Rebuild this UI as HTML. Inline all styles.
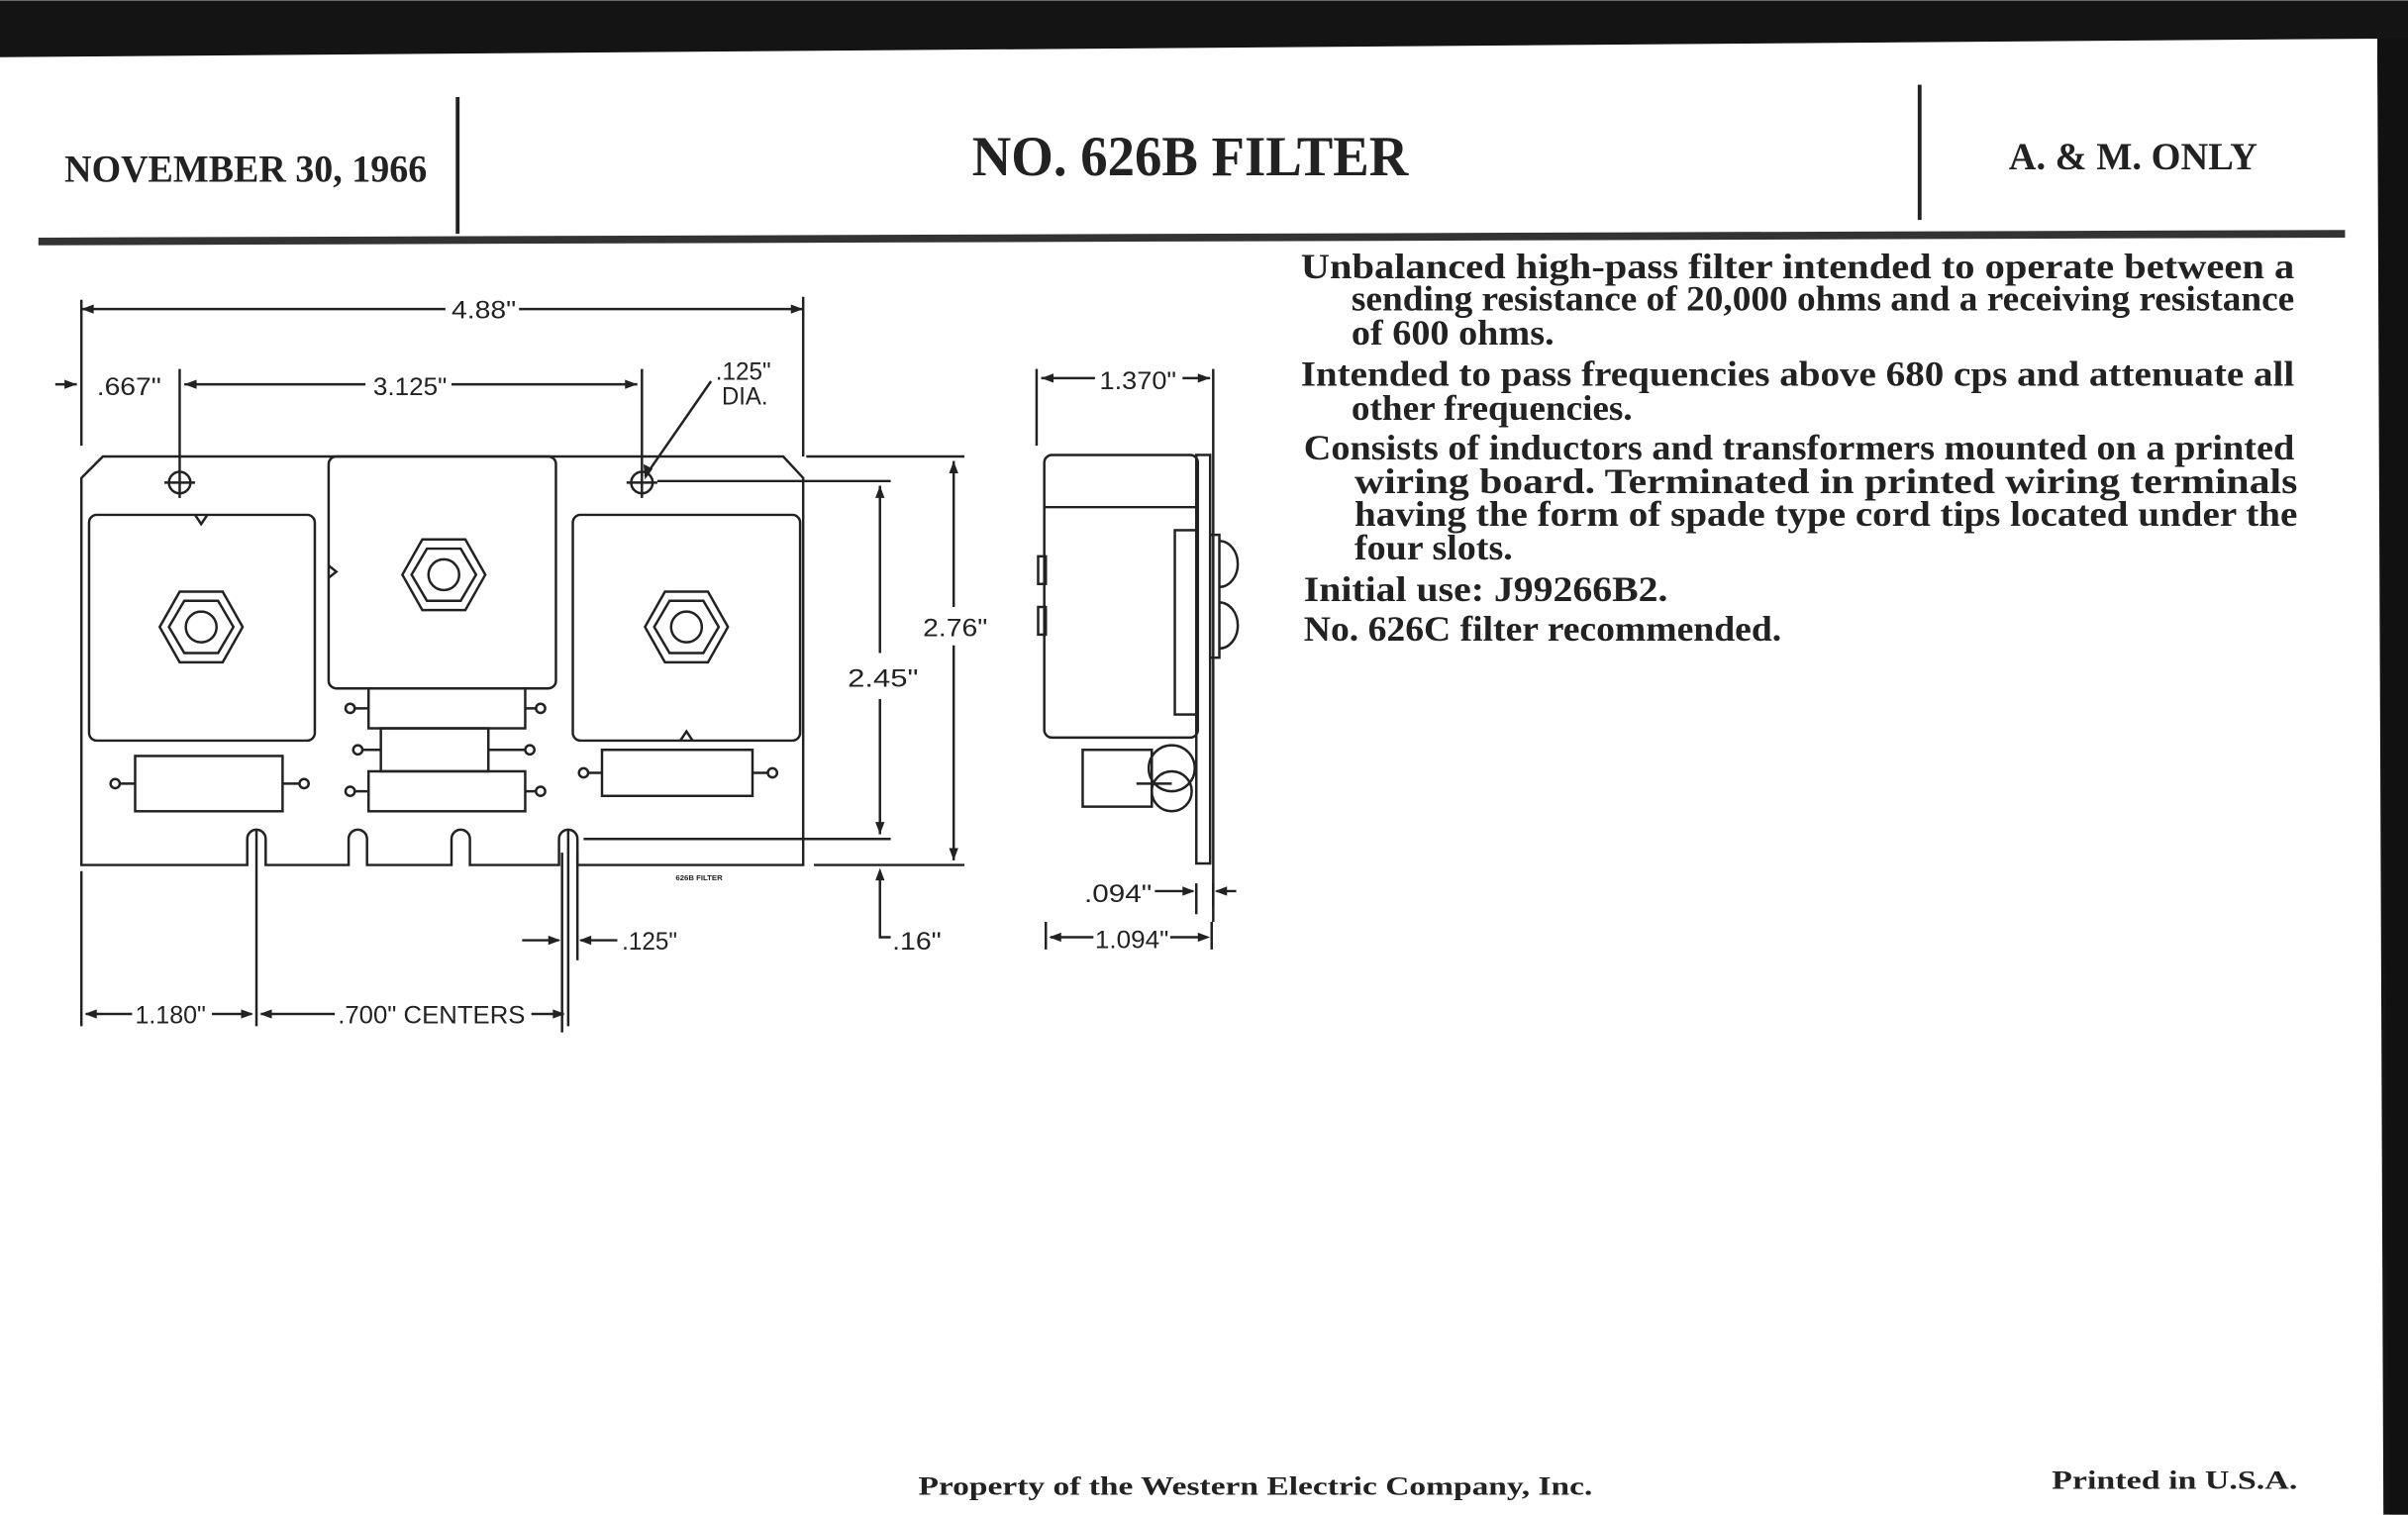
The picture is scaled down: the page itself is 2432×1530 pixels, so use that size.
<!DOCTYPE html>
<html><head><meta charset="utf-8"><style>
html,body{margin:0;padding:0;background:#fff;}
svg{display:block;}
</style></head><body>
<svg width="2432" height="1530" viewBox="0 0 1568 986" xmlns="http://www.w3.org/2000/svg">
<rect width="1568" height="986" fill="#fff"/>
<polygon points="0,0 1568,0 1568,986 1552,986 1548,25 1540,25 0,37" fill="#141414"/>
<polygon points="1548,25 1568,25 1568,986 1556,986" fill="#111"/>
<g font-family="Liberation Serif, serif" font-weight="bold" fill="#222" lengthAdjust="spacingAndGlyphs">
<text x="42" y="118" font-size="25" textLength="236" lengthAdjust="spacingAndGlyphs">NOVEMBER 30, 1966</text>
<text x="633" y="114" font-size="37" textLength="284" lengthAdjust="spacingAndGlyphs">NO. 626B FILTER</text>
<text x="1308" y="110" font-size="25" textLength="162" lengthAdjust="spacingAndGlyphs">A. &amp; M. ONLY</text>
</g>
<line x1="298" y1="63" x2="298" y2="152" stroke="#222" stroke-width="2.5"/>
<line x1="1250" y1="55" x2="1250" y2="143" stroke="#222" stroke-width="2.5"/>
<line x1="25" y1="157" x2="1527" y2="152" stroke="#333" stroke-width="5"/>
<g font-family="Liberation Serif, serif" font-weight="bold" fill="#222" font-size="23">
<text x="847" y="181" textLength="647" lengthAdjust="spacingAndGlyphs">Unbalanced high-pass filter intended to operate between a</text>
<text x="880" y="202" textLength="614" lengthAdjust="spacingAndGlyphs">sending resistance of 20,000 ohms and a receiving resistance</text>
<text x="880" y="224" textLength="132" lengthAdjust="spacingAndGlyphs">of 600 ohms.</text>
<text x="847" y="251" textLength="647" lengthAdjust="spacingAndGlyphs">Intended to pass frequencies above 680 cps and attenuate all</text>
<text x="880" y="273" textLength="183" lengthAdjust="spacingAndGlyphs">other frequencies.</text>
<text x="849" y="299" textLength="645" lengthAdjust="spacingAndGlyphs">Consists of inductors and transformers mounted on a printed</text>
<text x="882" y="321" textLength="614" lengthAdjust="spacingAndGlyphs">wiring board.  Terminated in printed wiring terminals</text>
<text x="882" y="342" textLength="614" lengthAdjust="spacingAndGlyphs">having the form of spade type cord tips located under the</text>
<text x="882" y="364" textLength="103" lengthAdjust="spacingAndGlyphs">four slots.</text>
<text x="849" y="391" textLength="237" lengthAdjust="spacingAndGlyphs">Initial use:  J99266B2.</text>
<text x="849" y="417" textLength="311" lengthAdjust="spacingAndGlyphs">No. 626C filter recommended.</text>
</g>
<g stroke="#222" stroke-width="1.6" fill="none">
<path d="M53,311 L67,297 L510,297 L523,311 L523,563 L376,563 L376,546 A6,6 0 0 0 364,546 L364,563 L306,563 L306,546 A6,6 0 0 0 294,546 L294,563 L239,563 L239,546 A6,6 0 0 0 227,546 L227,563 L173,563 L173,546 A6,6 0 0 0 161,546 L161,563 L53,563 Z"/>
<rect x="58" y="335" width="147" height="147" rx="5"/>
<rect x="214" y="297" width="148" height="151" rx="5"/>
<rect x="373" y="335" width="148" height="147" rx="5"/>
<path d="M127,335 L131,341 L135,335"/>
<path d="M214,368 L219,372 L214,376"/>
<path d="M443,482 L447,476 L451,482"/>
<g id="hex">
<polygon points="104,408 117,385 145,385 158,408 145,431 117,431"/>
<polygon points="110,408 120,391 142,391 152,408 142,425 120,425"/>
<circle cx="131" cy="408" r="10"/>
</g>
<use href="#hex" x="158" y="-34"/>
<use href="#hex" x="316" y="0"/>
<rect x="240" y="448" width="102" height="26"/>
<rect x="248" y="474" width="70" height="28"/>
<rect x="240" y="502" width="102" height="26"/>
<rect x="88" y="492" width="96" height="36"/>
<rect x="392" y="488" width="98" height="30"/>
<path d="M228,461 H240 M342,461 H352 M233,488 H248 M318,488 H345 M228,515 H240 M342,515 H352 M75,510 H88 M184,510 H198 M380,503 H392 M490,503 H503"/>
<g fill="#fff"><circle cx="228" cy="461" r="3"/><circle cx="352" cy="461" r="3"/><circle cx="233" cy="488" r="3"/><circle cx="345" cy="488" r="3"/><circle cx="228" cy="515" r="3"/><circle cx="352" cy="515" r="3"/><circle cx="75" cy="510" r="3"/><circle cx="198" cy="510" r="3"/><circle cx="380" cy="503" r="3"/><circle cx="503" cy="503" r="3"/></g>
<circle cx="117" cy="314" r="7"/><circle cx="418" cy="314" r="7"/>
<path d="M107,314 H127 M408,314 H428"/>
<path d="M53,195 V290 M523,193 V297 M53,201 H290 M338,201 H523"/>
<path d="M117,240 V324 M418,240 V324 M120,250 H238 M294,250 H415 M36,250 H50"/>
<path d="M463,248 L420,310"/>
<path d="M428,313 H580 M380,546 H580 M573,316 V425 M573,455 V543"/>
<path d="M525,297 H628 M530,563 H628 M621,300 V395 M621,420 V560"/>
<path d="M573,567 V610 H580"/>
<path d="M366,555 V672 M376,555 V625 M340,612 H364 M378,612 H402"/>
<path d="M53,567 V668 M167,540 V668 M370,540 V668 M56,660 H86 M138,660 H164 M170,660 H218 M346,660 H367"/>
<path d="M675,240 V290 M790,240 V590 M678,246 H713 M770,246 H788"/>
<rect x="680" y="296" width="100" height="184" rx="5"/>
<path d="M680,330 H780"/>
<rect x="779" y="296" width="9" height="266"/>
<rect x="765" y="345" width="14" height="120"/>
<rect x="788" y="348" width="6" height="80"/>
<path d="M794,352 A12,15 0 0 1 794,382 M794,392 A12,15 0 0 1 794,422"/>
<rect x="676" y="362" width="5" height="18"/><rect x="676" y="395" width="5" height="18"/>
<rect x="705" y="488" width="45" height="37"/>
<circle cx="763" cy="500" r="15"/><circle cx="763" cy="515" r="13"/>
<path d="M740,510 H763"/>
<path d="M779,575 V595 M790,575 V600 M752,580 H777 M805,580 H792"/>
<path d="M681,600 V618 M789,600 V618 M684,610 H712 M762,610 H786"/>
</g>
<g fill="#222">
<polygon points="53,201 61,198 61,204"/><polygon points="523,201 515,198 515,204"/>
<polygon points="50,250 42,247 42,253"/><polygon points="120,250 128,247 128,253"/><polygon points="415,250 407,247 407,253"/>
<polygon points="420,312 419,302 425,305"/>
<polygon points="573,316 570,324 576,324"/><polygon points="573,543 570,535 576,535"/>
<polygon points="621,300 618,308 624,308"/><polygon points="621,560 618,552 624,552"/>
<polygon points="573,565 570,573 576,573"/>
<polygon points="365,612 357,609 357,615"/><polygon points="377,612 385,609 385,615"/>
<polygon points="55,660 63,657 63,663"/><polygon points="165,660 157,657 157,663"/><polygon points="169,660 177,657 177,663"/><polygon points="368,660 360,657 360,663"/>
<polygon points="678,246 686,243 686,249"/><polygon points="788,246 780,243 780,249"/>
<polygon points="778,580 770,577 770,583"/><polygon points="791,580 799,577 799,583"/>
<polygon points="683,610 691,607 691,613"/><polygon points="788,610 780,607 780,613"/>
</g>
<g font-family="Liberation Sans, sans-serif" fill="#222" font-size="16">
<text x="294" y="207" textLength="42" lengthAdjust="spacingAndGlyphs">4.88"</text>
<text x="63" y="257" textLength="42" lengthAdjust="spacingAndGlyphs">.667"</text>
<text x="243" y="257" textLength="48" lengthAdjust="spacingAndGlyphs">3.125"</text>
<text x="466" y="247" textLength="36" lengthAdjust="spacingAndGlyphs">.125"</text>
<text x="470" y="263" textLength="30" lengthAdjust="spacingAndGlyphs">DIA.</text>
<text x="552" y="447" textLength="46" lengthAdjust="spacingAndGlyphs">2.45"</text>
<text x="601" y="414" textLength="42" lengthAdjust="spacingAndGlyphs">2.76"</text>
<text x="581" y="618" textLength="32" lengthAdjust="spacingAndGlyphs">.16"</text>
<text x="405" y="618" textLength="36" lengthAdjust="spacingAndGlyphs">.125"</text>
<text x="88" y="666" textLength="46" lengthAdjust="spacingAndGlyphs">1.180"</text>
<text x="220" y="666" textLength="122" lengthAdjust="spacingAndGlyphs">.700" CENTERS</text>
<text x="716" y="253" textLength="50" lengthAdjust="spacingAndGlyphs">1.370"</text>
<text x="706" y="587" textLength="44" lengthAdjust="spacingAndGlyphs">.094"</text>
<text x="713" y="617" textLength="48" lengthAdjust="spacingAndGlyphs">1.094"</text>
<text x="440" y="573" font-size="5" font-weight="bold">626B FILTER</text>
</g>
<g font-family="Liberation Serif, serif" font-weight="bold" fill="#222" font-size="17">
<text x="598" y="973" textLength="439" lengthAdjust="spacingAndGlyphs">Property of the Western Electric Company, Inc.</text>
<text x="1336" y="969" textLength="160" lengthAdjust="spacingAndGlyphs">Printed in U.S.A.</text>
</g>
</svg>
</body></html>
